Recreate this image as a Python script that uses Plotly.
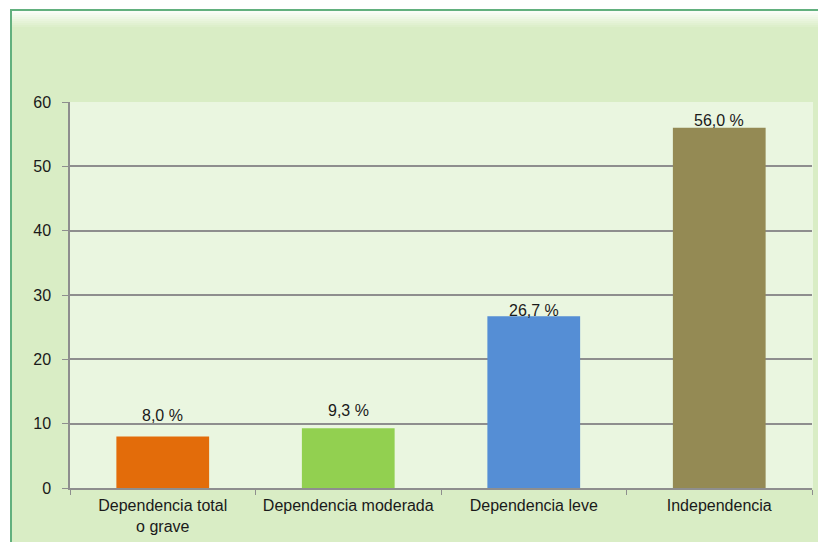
import plotly.graph_objects as go

categories = ["Dependencia total<br>o grave", "Dependencia moderada", "Dependencia leve", "Independencia"]
values = [8.0, 9.3, 26.7, 56.0]
labels = ["8,0 %", "9,3 %", "26,7 %", "56,0 %"]
colors = ["#E36C0A", "#92D050", "#558ED5", "#948A54"]
y_ticks = [0, 10, 20, 30, 40, 50, 60]
label_shift = [21, 18, 6, 7]  # pixel offset of each value label above its bar

W, H = 818, 542
L, R, T, B = 70, 6, 102, 54
pw, ph = W - L - R, H - T - B

def px(x):
    return (x - L) / pw

def py(y):
    return (H - B - y) / ph

fig = go.Figure(go.Bar(
    x=categories, y=values, width=0.5,
    marker=dict(color=colors, line=dict(width=0)),
))

for c, v, t, s in zip(categories, values, labels, label_shift):
    fig.add_annotation(x=c, y=v, text=t, showarrow=False, yanchor="middle",
                       yshift=s, font=dict(size=16, color="#1a1a1a"))

shapes = [
    dict(type="rect", xref="paper", yref="paper", layer="below",
         x0=px(11), x1=px(840), y0=py(570), y1=py(10),
         fillcolor="#D9EDC5", line=dict(color="#62B07E", width=2)),
]
# top gradient
n = 8
for i in range(n):
    y0 = 11 + i * 2
    shapes.append(dict(type="rect", xref="paper", yref="paper", layer="below",
                       x0=px(12), x1=px(840), y0=py(y0 + 2), y1=py(y0),
                       fillcolor="white", opacity=0.85 * (1 - i / n), line=dict(width=0)))
shapes.append(dict(type="rect", xref="paper", yref="paper", layer="below",
                   x0=0, x1=px(813), y0=0, y1=1,
                   fillcolor="#EAF6E0", line=dict(width=0)))

fig.update_layout(
    width=W, height=H,
    margin=dict(l=L, r=R, t=T, b=B, autoexpand=False),
    paper_bgcolor="white", plot_bgcolor="rgba(0,0,0,0)",
    font=dict(family="Liberation Sans, Arial, sans-serif", size=16, color="#1a1a1a"),
    showlegend=False, shapes=shapes, bargap=0.5,
)
fig.update_xaxes(type="category", tickson="boundaries", ticks="outside", ticklen=5,
                 tickcolor="#8e8e8e", showline=True, linecolor="#8e8e8e", linewidth=1.5,
                 showgrid=False, ticklabelstandoff=2, tickfont=dict(size=16, color="#1a1a1a"))
fig.update_yaxes(range=[0, 60], tickvals=y_ticks, ticks="outside", ticklen=6,
                 tickcolor="#8e8e8e", showline=True, linecolor="#8e8e8e", linewidth=1.5,
                 showgrid=True, gridcolor="#8e8e8e", gridwidth=1.5, zeroline=False,
                 ticklabelstandoff=8, tickfont=dict(size=16, color="#1a1a1a"))

fig.write_html("out.html")
